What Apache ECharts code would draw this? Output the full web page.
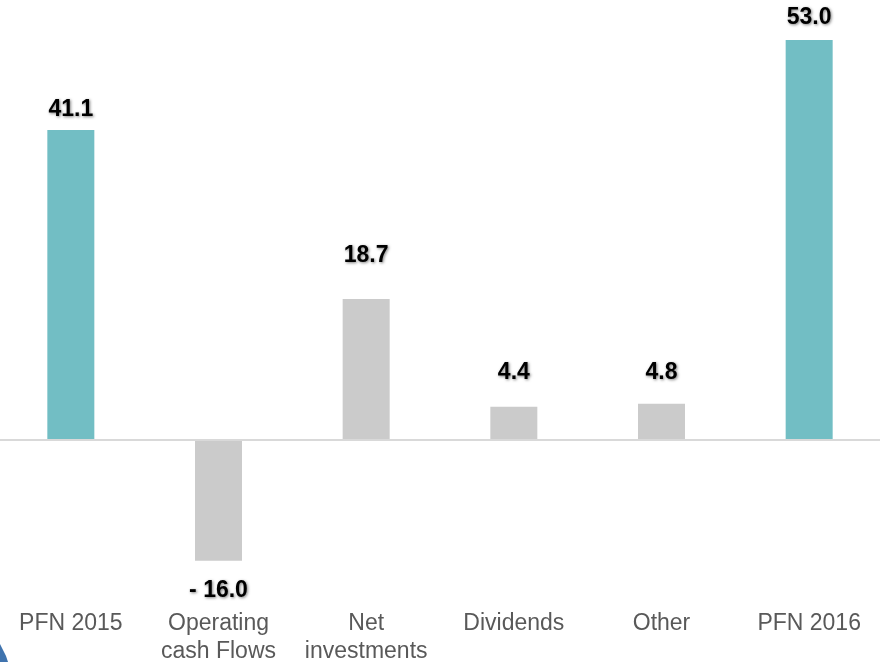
<!DOCTYPE html>
<html>
<head>
<meta charset="utf-8">
<script src="https://cdn.jsdelivr.net/npm/echarts@6/dist/echarts.min.js"></script>
<style>
  html, body { margin: 0; padding: 0; background: #fff; overflow: hidden; }
  #wrap { position: relative; width: 880px; height: 662px; overflow: hidden; }
  #chart { position: absolute; left: -3px; top: 0; width: 886px; height: 662px; }
</style>
</head>
<body>
<div id="wrap"><div id="chart"></div></div>
<script>
// categories and values
const categories = ['PFN 2015', 'Operating\ncash Flows', 'Net\ninvestments', 'Dividends', 'Other', 'PFN 2016'];
const values = [41.1, -16.0, 18.7, 4.4, 4.8, 53.0];
const isTotal = [true, false, false, false, false, true];
// label distance above / below each bar (px)
const labelGap = [9, 18, 32, 23, 20, 11];

const FONT = 'Arial, "Liberation Sans", sans-serif';

const chart = echarts.init(document.getElementById('chart'));

const seriesData = values.map((v, i) => ({
  value: v,
  itemStyle: { color: isTotal[i] ? '#72bec4' : '#cbcbcb' },
  label: { position: v < 0 ? 'bottom' : 'top', distance: labelGap[i] }
}));

chart.setOption({
  animation: false,
  grid: { left: 0, right: 0, top: 25, height: 566, outerBoundsMode: 'none' },
  xAxis: {
    type: 'category',
    data: categories,
    axisLine: { show: false, onZero: false },
    axisTick: { show: false },
    axisLabel: {
      color: '#595959',
      fontFamily: FONT,
      fontSize: 23,
      lineHeight: 28,
      margin: 19,
      interval: 0
    }
  },
  yAxis: {
    type: 'value',
    min: -20,
    max: 55,
    show: false
  },
  series: [{
    type: 'bar',
    barWidth: 47,
    data: seriesData,
    label: {
      show: true,
      color: '#000',
      fontFamily: FONT,
      fontWeight: 'bold',
      fontSize: 23,
      textShadowColor: 'rgba(0,0,0,0.5)',
      textShadowBlur: 3,
      textShadowOffsetX: 1,
      textShadowOffsetY: 1,
      formatter: p => p.value < 0 ? '- ' + Math.abs(p.value).toFixed(1) : p.value.toFixed(1)
    },
    markLine: {
      silent: true,
      symbol: 'none',
      label: { show: false },
      lineStyle: { color: '#d9d9d9', width: 2, type: 'solid' },
      data: [{ yAxis: 0 }]
    }
  }],
  // small blue corner shape at the bottom left
  graphic: [{
    type: 'polygon',
    shape: { points: [[3, 644], [6, 650], [9, 656], [11, 662], [3, 662]] },
    style: { fill: '#3f73ae' }
  }]
});
</script>
</body>
</html>
